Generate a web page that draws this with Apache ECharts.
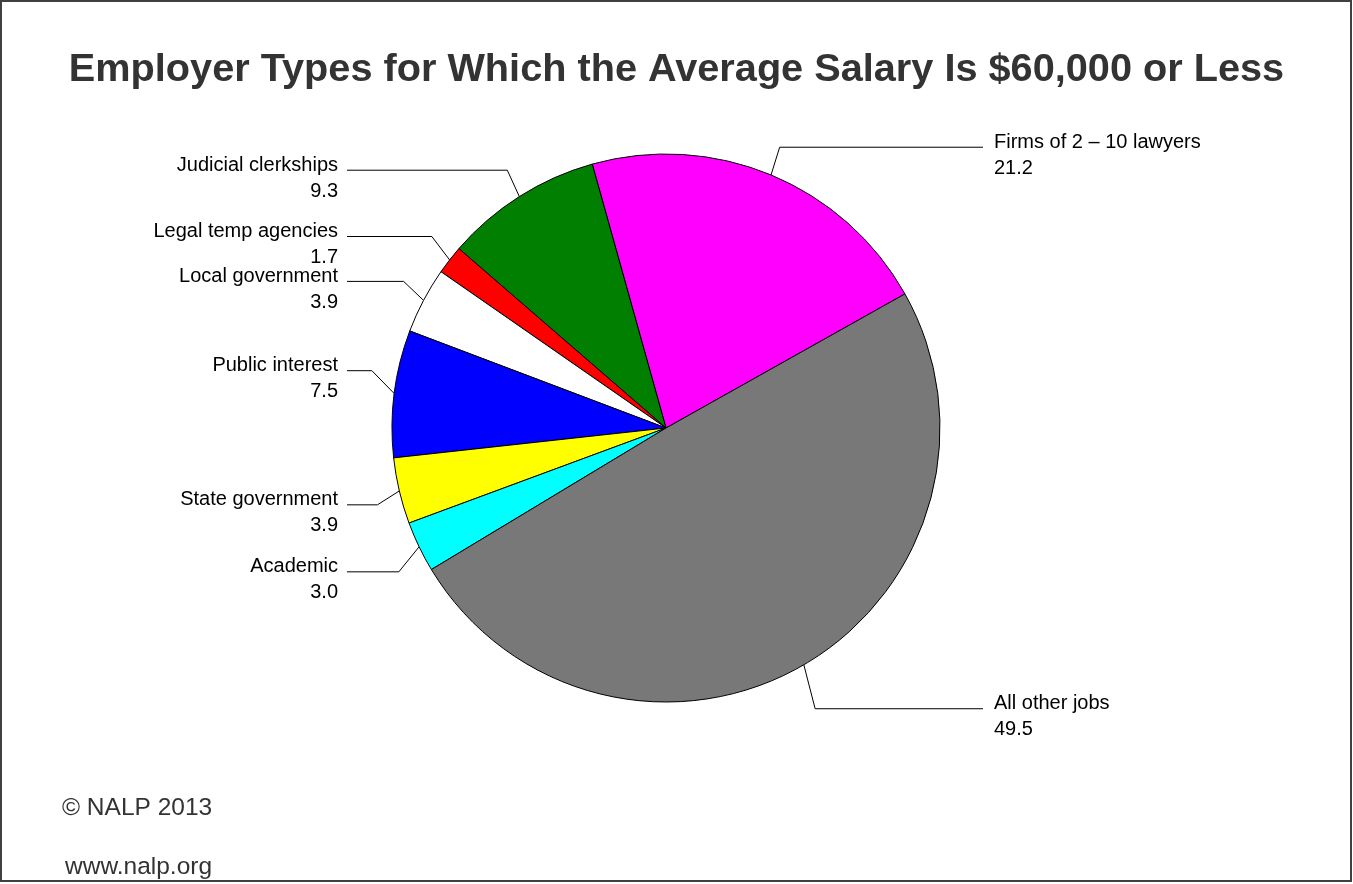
<!DOCTYPE html>
<html>
<head>
<meta charset="utf-8">
<script src="https://cdn.jsdelivr.net/npm/echarts@6/dist/echarts.min.js"></script>
<style>
html, body { margin: 0; padding: 0; background: #fff; }
#chart { width: 1353px; height: 884px; }
</style>
</head>
<body>
<div id="chart"></div>
<script>
// ---- data ----
const categories = [
  'Firms of 2 – 10 lawyers',
  'Judicial clerkships',
  'Legal temp agencies',
  'Local government',
  'Public interest',
  'State government',
  'Academic',
  'All other jobs'
];
const values = [21.2, 9.3, 1.7, 3.9, 7.5, 3.9, 3.0, 49.5];
const sliceColors = ['#ff00ff', '#007f00', '#ff0000', '#ffffff', '#0000ff', '#ffff00', '#00ffff', '#787878'];

const titleText = 'Employer Types for Which the Average Salary Is $60,000 or Less';
const footer1 = '© NALP 2013';
const footer2 = 'www.nalp.org';

// ---- layout / style (not data) ----
const FONT = '"Liberation Sans", Arial, Helvetica, sans-serif';
const CX = 666, CY = 428, R = 274;
const labelShiftY = [0, -1, -5, -5, -19, 7, 12, 18];

const chart = echarts.init(document.getElementById('chart'), null, { renderer: 'canvas' });

const pieData = categories.map((name, i) => ({
  name: name,
  value: values[i],
  itemStyle: { color: sliceColors[i] }
}));

chart.setOption({
  animation: false,
  backgroundColor: '#ffffff',
  title: [
    {
      text: titleText, left: 'center', top: 50, padding: 0,
      textStyle: { fontFamily: FONT, fontSize: 39.7, fontWeight: 'bold', color: '#333333' }
    },
    {
      text: footer1, left: 62, top: 796, padding: 0,
      textStyle: { fontFamily: FONT, fontSize: 24.5, fontWeight: 'normal', color: '#333333' }
    },
    {
      text: footer2, left: 65, top: 855, padding: 0,
      textStyle: { fontFamily: FONT, fontSize: 24.5, fontWeight: 'normal', color: '#333333' }
    }
  ],
  graphic: [
    {
      type: 'rect', silent: true, z: 100,
      shape: { x: 1, y: 1, width: 1350, height: 880 },
      style: { fill: null, stroke: '#404040', lineWidth: 2 }
    }
  ],
  series: [
    {
      type: 'pie',
      center: [CX, CY],
      radius: R,
      startAngle: 29.3,
      clockwise: false,
      avoidLabelOverlap: false,
      emphasis: { disabled: true },
      itemStyle: { borderColor: '#000000', borderWidth: 1 },
      label: {
        show: true,
        position: 'outside',
        fontFamily: FONT,
        fontSize: 20,
        lineHeight: 26,
        color: '#000000',
        formatter: p => p.name + '\n' + Number(p.value).toFixed(1)
      },
      labelLine: {
        show: true,
        length: 30,
        length2: 10,
        smooth: false,
        lineStyle: { color: '#000000', width: 1 }
      },
      labelLayout: function (params) {
        const pts = params.labelLinePoints;
        if (!pts) return {};
        const i = params.dataIndex;
        const p0 = pts[0], p1 = pts[1];
        const left = p1[0] < CX;
        const ey = p1[1] + labelShiftY[i];
        const ex = p0[0] + (p1[0] - p0[0]) * 0.75;
        const endX = left ? CX - 319 : CX + 317;
        return {
          x: left ? endX - 9 : endX + 11,
          y: ey - 18,
          align: left ? 'right' : 'left',
          verticalAlign: 'top',
          labelLinePoints: [p0, [ex, ey], [endX, ey]]
        };
      },
      data: pieData
    }
  ]
});
</script>
</body>
</html>
